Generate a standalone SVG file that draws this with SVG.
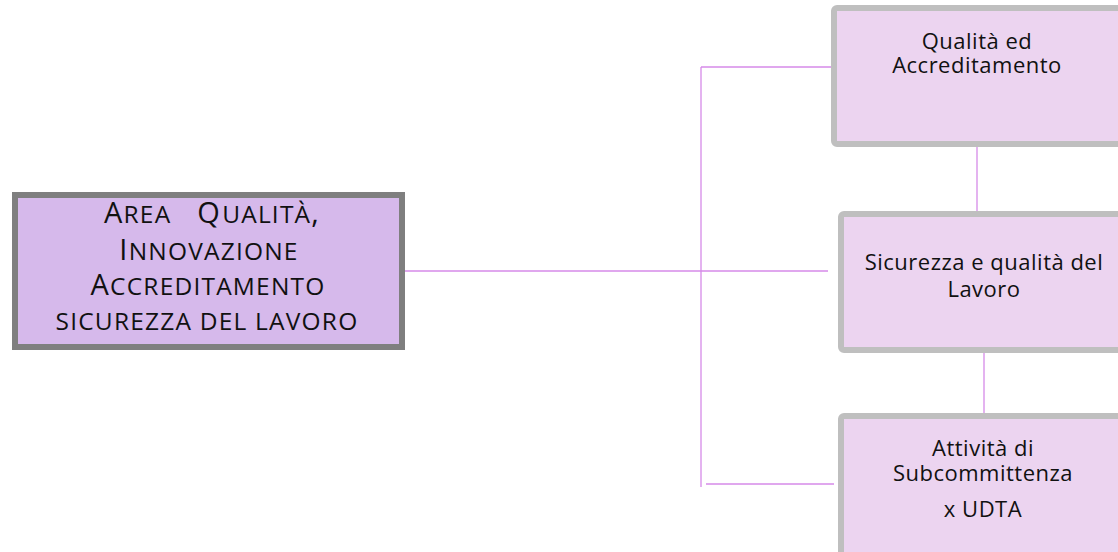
<svg xmlns="http://www.w3.org/2000/svg" width="1118" height="552" viewBox="0 0 1118 552">
  <style>
    .main { fill: #d6b9eb; stroke: #7f7f7f; stroke-width: 6; }
    .unit { fill: #ecd4f0; stroke: #bfbfbf; stroke-width: 6; }
    .conn { stroke: #d68ae8; stroke-width: 1.3; fill: none; }
    .t { font-family: "Open Sans", "Noto Sans", sans-serif; fill: #111; text-anchor: middle; }
    .tm { font-size: 29px; letter-spacing: 1.2px; }
    .sc { font-size: 24.5px; letter-spacing: 1.2px; }
    .tu { font-size: 22px; letter-spacing: 0.5px; }
  </style>
  <rect width="1118" height="552" fill="#ffffff"/>

  <g id="connectors">
    <line class="conn" x1="405" y1="271" x2="828" y2="271"/>
    <line class="conn" x1="701" y1="67" x2="701" y2="487"/>
    <line class="conn" x1="701" y1="67" x2="833" y2="67"/>
    <line class="conn" x1="706" y1="484" x2="834" y2="484"/>
    <line class="conn" x1="977" y1="147" x2="977" y2="211"/>
    <line class="conn" x1="984" y1="353" x2="984" y2="413"/>
  </g>

  <!-- head node: first letters in full caps, the rest in small caps -->
  <g id="area-qualita">
    <rect class="main" x="15" y="195" width="387" height="152"/>
    <text class="t tm"><tspan x="212" y="223">A<tspan class="sc">REA</tspan><tspan dx="26">Q</tspan><tspan class="sc" dx="1">UALITÀ</tspan>,</tspan><tspan x="209" y="260">I<tspan class="sc">NNOVAZIONE</tspan></tspan><tspan x="208" y="295">A<tspan class="sc">CCREDITAMENTO</tspan></tspan><tspan class="sc" x="207" y="330">SICUREZZA DEL LAVORO</tspan></text>
  </g>

  <g id="qualita-accreditamento">
    <rect class="unit" x="834" y="8" width="300" height="136" rx="3"/>
    <text class="t tu"><tspan x="977" y="49">Qualità ed</tspan><tspan x="977" y="73">Accreditamento</tspan></text>
  </g>

  <g id="sicurezza-lavoro">
    <rect class="unit" x="841" y="214" width="300" height="136" rx="3"/>
    <text class="t tu"><tspan x="984" y="270">Sicurezza e qualità del</tspan><tspan x="984" y="297">Lavoro</tspan></text>
  </g>

  <g id="subcommittenza">
    <rect class="unit" x="841" y="416" width="300" height="150" rx="3"/>
    <text class="t tu"><tspan x="983" y="456">Attività di</tspan><tspan x="983" y="481">Subcommittenza</tspan><tspan x="983" y="517">x UDTA</tspan></text>
  </g>
</svg>
